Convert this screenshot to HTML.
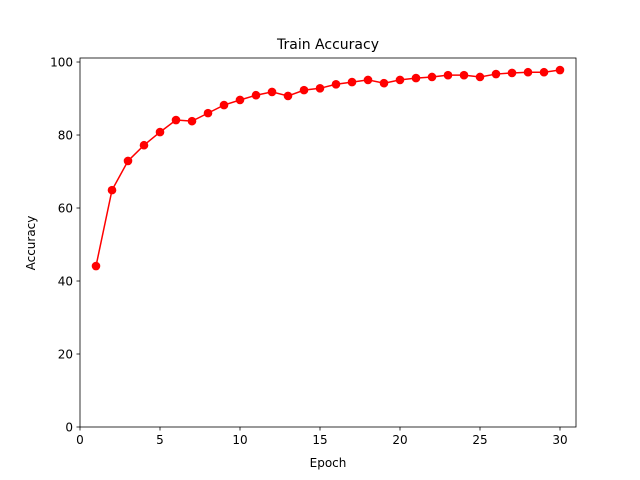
<!DOCTYPE html>
<html><head><meta charset="utf-8"><style>
body{margin:0;background:#fff}
svg{display:block;font-family:"DejaVu Sans","Liberation Sans",sans-serif}
</style></head><body>
<svg id="chart" width="640" height="480">
<rect width="640" height="480" fill="#fff"/>
<text x="328" y="49" font-size="14" text-anchor="middle">Train Accuracy</text>
<text x="328" y="467" font-size="12" text-anchor="middle">Epoch</text>
<text x="35" y="243" font-size="12" text-anchor="middle" transform="rotate(-90 35 243)">Accuracy</text>
<g id="ticks"></g>
<g id="series"></g>
<rect x="80" y="58" width="496" height="369" fill="none" stroke="#000" stroke-width="0.8"/>
</svg>
<script>
const epochs=[1,2,3,4,5,6,7,8,9,10,11,12,13,14,15,16,17,18,19,20,21,22,23,24,25,26,27,28,29,30];
const accuracy=[44.1,64.9,72.9,77.2,80.8,84.1,83.8,86.0,88.2,89.6,90.9,91.8,90.7,92.3,92.8,93.9,94.5,95.1,94.2,95.1,95.6,95.9,96.4,96.4,95.9,96.7,97.0,97.2,97.2,97.8];
const xTicks=[0,5,10,15,20,25,30];
const yTicks=[0,20,40,60,80,100];
const NS="http://www.w3.org/2000/svg";
const X0=80,X1=576,Y0=427,Y1=58,xmin=0,xmax=31,ymin=0,ymax=101.1;
function xs(v){return X0+(v-xmin)/(xmax-xmin)*(X1-X0);}
function ys(v){return Y0-(v-ymin)/(ymax-ymin)*(Y0-Y1);}
function mk(t,a,p){const e=document.createElementNS(NS,t);for(const k in a)e.setAttribute(k,a[k]);p.appendChild(e);return e;}
const tg=document.getElementById('ticks');
xTicks.forEach(v=>{
  const l=mk('line',{x1:xs(v),x2:xs(v),y1:Y0,y2:Y0+3.5,stroke:'#000','stroke-width':0.8},tg);
  
  
  const t=mk('text',{x:xs(v),y:Y0+17,'font-size':12,'text-anchor':'middle'},tg);t.textContent=v;
  
  
});
yTicks.forEach(v=>{
  const l=mk('line',{x1:X0-3.5,x2:X0,y1:ys(v),y2:ys(v),stroke:'#000','stroke-width':0.8},tg);
  
  
  const t=mk('text',{x:X0-7,y:ys(v)+4.5,'font-size':12,'text-anchor':'end'},tg);t.textContent=v;
  
  
});
const sg=document.getElementById('series');
const pts=epochs.map((e,i)=>xs(e)+','+ys(accuracy[i])).join(' ');
const pl=mk('polyline',{points:pts,fill:'none',stroke:'#ff0000','stroke-width':1.5},sg);


epochs.forEach((e,i)=>{
  const c=mk('circle',{cx:xs(e),cy:ys(accuracy[i]),r:4.3,fill:'#ff0000'},sg);
  
  
});
</script>
</body></html>
